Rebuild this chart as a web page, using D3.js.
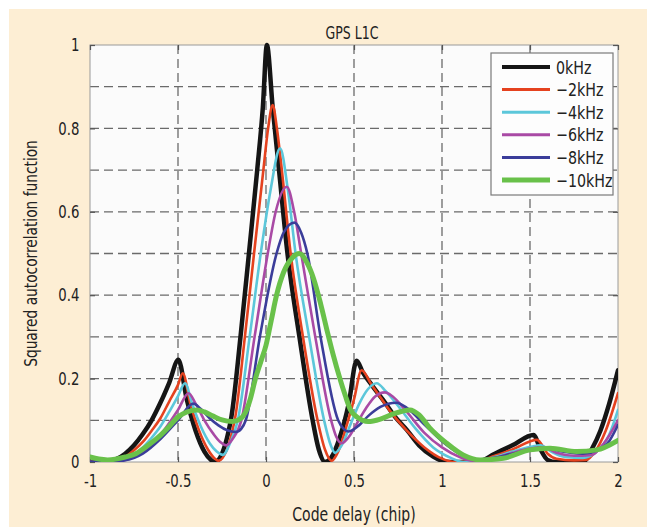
<!DOCTYPE html>
<html><head><meta charset="utf-8">
<script src="https://cdn.jsdelivr.net/npm/d3@7"></script>
<style>
html,body{margin:0;padding:0;background:#fff;}
svg{display:block;}
text{font-family:"Liberation Sans Narrow","DejaVu Sans Condensed","Roboto Condensed","Open Sans",sans-serif;font-stretch:condensed;fill:#222;}
</style></head>
<body>
<svg id="c" width="647" height="527"></svg>
<script>
// ---- data ----
const title = "GPS L1C";
const xLabel = "Code delay (chip)";
const yLabel = "Squared autocorrelation function";
const xTicks = [-1, -0.5, 0, 0.5, 1, 1.5, 2];
const xTickLabels = ["-1", "-0.5", "0", "0.5", "1", "1.5", "2"];
const yTicks = [0, 0.2, 0.4, 0.6, 0.8, 1];
const yTickLabels = ["0", "0.2", "0.4", "0.6", "0.8", "1"];
const yGrid = [0.1, 0.2, 0.3, 0.4, 0.5, 0.6, 0.7, 0.8, 0.9];
const xGrid = [-0.5, 0, 0.5, 1, 1.5];
const seriesNames = ["0kHz", "\u22122kHz", "\u22124kHz", "\u22126kHz", "\u22128kHz", "\u221210kHz"];
const seriesColors = ["#151515", "#e5421f", "#5cc7da", "#a94aa5", "#3b3d9a", "#69c14a"];
const seriesWidths = [4.5, 2.6, 2.6, 2.6, 2.6, 5];

// 0 kHz
const delay0 = [-1, -0.9, -0.85, -0.8, -0.75, -0.7, -0.65, -0.6, -0.55, -0.498, -0.45, -0.4, -0.35, -0.31, -0.29,
  -0.2, -0.145, -0.097, -0.05, -0.018, 0.005, 0.038, 0.074, 0.122, 0.19, 0.265, 0.3, 0.335,
  0.37, 0.42, 0.47, 0.515, 0.55, 0.6, 0.665, 0.73, 0.8, 0.87, 0.95, 1.0, 1.05, 1.2, 1.3, 1.4, 1.52, 1.56, 1.6, 1.65, 1.8, 1.85, 1.9, 1.95, 2.0];
const acf0 = [0, 0.001, 0.007, 0.02, 0.04, 0.067, 0.1, 0.142, 0.19, 0.245, 0.15, 0.075, 0.025, 0.004, 0,
  0.1, 0.3, 0.5, 0.7, 0.85, 1.0, 0.85, 0.7, 0.5, 0.3, 0.1, 0.03, 0,
  0.01, 0.06, 0.14, 0.243, 0.215, 0.185, 0.149, 0.11, 0.077, 0.04, 0.013, 0.003, 0, 0, 0.02, 0.04, 0.065, 0.03, 0.005, 0, 0, 0.03, 0.075, 0.14, 0.22];

// -2 kHz
const delay2 = [-1, -0.9, -0.85, -0.8, -0.75, -0.7, -0.65, -0.6, -0.55, -0.5, -0.473, -0.43, -0.38, -0.33, -0.29, -0.27,
  -0.178, -0.12, -0.068, -0.015, 0.012, 0.038, 0.062, 0.09, 0.14, 0.21, 0.293, 0.335, 0.373,
  0.41, 0.46, 0.5, 0.543, 0.6, 0.65, 0.7, 0.8, 0.9, 1.0, 1.07, 1.2, 1.3, 1.4, 1.54, 1.6, 1.65, 1.75, 1.82, 1.87, 1.93, 2.0];
const acf2 = [0, 0, 0.004, 0.012, 0.028, 0.048, 0.075, 0.105, 0.145, 0.185, 0.213, 0.14, 0.075, 0.03, 0.008, 0.003,
  0.1, 0.3, 0.5, 0.7, 0.8, 0.856, 0.8, 0.7, 0.5, 0.3, 0.1, 0.03, 0.003,
  0.025, 0.09, 0.15, 0.22, 0.185, 0.155, 0.125, 0.075, 0.035, 0.008, 0, 0.002, 0.015, 0.03, 0.053, 0.02, 0.008, 0.004, 0.005, 0.025, 0.075, 0.165];

// -4 kHz
const delay4 = [-1, -0.9, -0.8, -0.75, -0.7, -0.65, -0.6, -0.55, -0.5, -0.46, -0.42, -0.37, -0.32, -0.28, -0.245,
  -0.2, -0.16, -0.093, -0.03, 0.025, 0.08, 0.125, 0.168, 0.245, 0.33, 0.368, 0.392,
  0.43, 0.48, 0.53, 0.58, 0.629, 0.68, 0.75, 0.85, 0.95, 1.05, 1.12, 1.2, 1.3, 1.4, 1.5, 1.56, 1.62, 1.7, 1.8, 1.88, 1.95, 2.0];
const acf4 = [0, 0, 0.008, 0.018, 0.035, 0.058, 0.085, 0.12, 0.158, 0.189, 0.14, 0.085, 0.045, 0.025, 0.017,
  0.05, 0.1, 0.3, 0.5, 0.65, 0.752, 0.65, 0.5, 0.3, 0.1, 0.04, 0.022,
  0.04, 0.09, 0.14, 0.175, 0.189, 0.17, 0.135, 0.08, 0.035, 0.01, 0, 0.002, 0.012, 0.025, 0.036, 0.04, 0.025, 0.012, 0.01, 0.025, 0.065, 0.125];

// -6 kHz
const delay6 = [-1, -0.9, -0.8, -0.7, -0.6, -0.5, -0.44, -0.4, -0.35, -0.3, -0.26, -0.225,
  -0.19, -0.14, -0.065, 0.01, 0.055, 0.118, 0.16, 0.2, 0.28, 0.37, 0.4, 0.43,
  0.47, 0.52, 0.57, 0.62, 0.676, 0.72, 0.8, 0.9, 1.0, 1.1, 1.18, 1.3, 1.4, 1.5, 1.58, 1.65, 1.75, 1.85, 1.92, 2.0];
const acf6 = [0, 0, 0.005, 0.025, 0.065, 0.125, 0.165, 0.14, 0.1, 0.068, 0.048, 0.04,
  0.055, 0.1, 0.3, 0.5, 0.6, 0.66, 0.6, 0.5, 0.3, 0.1, 0.06, 0.045,
  0.06, 0.095, 0.13, 0.157, 0.167, 0.157, 0.12, 0.07, 0.035, 0.012, 0.003, 0.01, 0.022, 0.032, 0.036, 0.022, 0.015, 0.017, 0.045, 0.1];

// -8 kHz
const delay8 = [-1, -0.9, -0.8, -0.7, -0.6, -0.5, -0.413, -0.37, -0.32, -0.27, -0.22, -0.17,
  -0.14, -0.115, -0.035, 0.06, 0.1, 0.161, 0.2, 0.235, 0.31, 0.41, 0.44, 0.468,
  0.52, 0.58, 0.65, 0.74, 0.8, 0.9, 1.0, 1.1, 1.2, 1.3, 1.4, 1.5, 1.6, 1.7, 1.8, 1.88, 1.95, 2.0];
const acf8 = [0, 0, 0.004, 0.02, 0.055, 0.1, 0.14, 0.127, 0.105, 0.088, 0.076, 0.072,
  0.08, 0.1, 0.3, 0.5, 0.55, 0.574, 0.55, 0.5, 0.3, 0.1, 0.08, 0.073,
  0.085, 0.11, 0.132, 0.142, 0.13, 0.09, 0.05, 0.02, 0.006, 0.01, 0.02, 0.028, 0.032, 0.024, 0.02, 0.028, 0.05, 0.089];

// -10 kHz
const delay10 = [-1, -0.95, -0.9, -0.8, -0.74, -0.67, -0.61, -0.55, -0.5, -0.45, -0.394, -0.35, -0.3, -0.25, -0.19,
  -0.15, -0.119, -0.09, -0.06, -0.03, 0, 0.03, 0.06, 0.1, 0.15, 0.19, 0.23, 0.27, 0.31, 0.35, 0.38, 0.42, 0.45, 0.48,
  0.52, 0.58, 0.65, 0.72, 0.818, 0.87, 0.93, 1.027, 1.12, 1.216, 1.348, 1.5, 1.614, 1.765, 1.879, 2.0];
const acf10 = [0.012, 0.007, 0.005, 0.012, 0.02, 0.04, 0.06, 0.085, 0.108, 0.12, 0.125, 0.12, 0.11, 0.101, 0.097,
  0.102, 0.117, 0.15, 0.2, 0.24, 0.28, 0.34, 0.4, 0.455, 0.49, 0.5, 0.48, 0.44, 0.38, 0.31, 0.26, 0.2, 0.16, 0.125,
  0.107, 0.097, 0.103, 0.115, 0.125, 0.113, 0.082, 0.045, 0.017, 0.005, 0.009, 0.029, 0.033, 0.025, 0.029, 0.052];

const delays = [delay0, delay2, delay4, delay6, delay8, delay10];
const acfs = [acf0, acf2, acf4, acf6, acf8, acf10];

// ---- drawing ----
const W = 647, H = 527;
const NARROW = 0.82; // horizontal squeeze to mimic the condensed face of the original
const svg = d3.select("#c");
const m = {left: 90, top: 45, right: 618, bottom: 462};

svg.append("rect").attr("x", 9).attr("y", 9).attr("width", W - 9).attr("height", H - 9).attr("fill", "#fdeed4");

const x = d3.scaleLinear().domain([-1, 2]).range([m.left, m.right]);
const y = d3.scaleLinear().domain([0, 1]).range([m.bottom, m.top]);

svg.append("rect").attr("x", m.left).attr("y", m.top)
  .attr("width", m.right - m.left).attr("height", m.bottom - m.top).attr("fill", "#fbfbfb");

const defs = svg.append("defs");
defs.append("clipPath").attr("id", "clip").append("rect")
  .attr("x", m.left).attr("y", m.top - 3).attr("width", m.right - m.left).attr("height", m.bottom - m.top + 3);

// grid
const grid = svg.append("g").attr("stroke", "#6a6a6a").attr("stroke-width", 1.3).attr("stroke-dasharray", "9,5");
grid.selectAll("line.h").data(yGrid).enter().append("line")
  .attr("x1", m.left).attr("x2", m.right).attr("y1", d => y(d)).attr("y2", d => y(d));
grid.selectAll("line.v").data(xGrid).enter().append("line")
  .attr("y1", m.top).attr("y2", m.bottom).attr("x1", d => x(d)).attr("x2", d => x(d));

// frame
svg.append("rect").attr("x", m.left).attr("y", m.top)
  .attr("width", m.right - m.left).attr("height", m.bottom - m.top)
  .attr("fill", "none").attr("stroke", "#9a9a9a").attr("stroke-width", 1);

// axes with inner ticks
const axB = d3.axisBottom(x).tickValues(xTicks).tickFormat((d, i) => xTickLabels[i]).tickSizeInner(-5).tickSizeOuter(0).tickPadding(12);
const axT = d3.axisTop(x).tickValues(xTicks).tickFormat("").tickSizeInner(-5).tickSizeOuter(0);
const axL = d3.axisLeft(y).tickValues(yTicks).tickFormat((d, i) => yTickLabels[i]).tickSizeInner(-5).tickSizeOuter(0).tickPadding(13);
const axR = d3.axisRight(y).tickValues(yTicks).tickFormat("").tickSizeInner(-5).tickSizeOuter(0);

function styleAxis(g) {
  g.select(".domain").remove();
  g.selectAll(".tick line").attr("stroke", "#555").attr("stroke-width", 1.2);
  g.selectAll(".tick text").attr("font-size", 18).attr("fill", "#222")
    .attr("transform", `scale(${NARROW},1)`)
    .style("font-family", '"Liberation Sans Narrow","DejaVu Sans Condensed",sans-serif');
}
svg.append("g").attr("transform", `translate(0,${m.bottom})`).call(axB).call(styleAxis);
svg.append("g").attr("transform", `translate(0,${m.top})`).call(axT).call(styleAxis);
svg.append("g").attr("transform", `translate(${m.left},0)`).call(axL).call(styleAxis);
svg.append("g").attr("transform", `translate(${m.right},0)`).call(axR).call(styleAxis);

// curves
const line = d3.line().x(d => x(d[0])).y(d => y(d[1])).curve(d3.curveMonotoneX);
const curves = svg.append("g").attr("clip-path", "url(#clip)");
seriesNames.forEach((name, i) => {
  const pts = delays[i].map((d, k) => [d, acfs[i][k]]);
  curves.append("path").datum(pts).attr("d", line)
    .attr("fill", "none").attr("stroke", seriesColors[i]).attr("stroke-width", seriesWidths[i])
    .attr("stroke-linejoin", "round").attr("stroke-linecap", "round");
});

// legend
const lg = svg.append("g");
lg.append("rect").attr("x", 491).attr("y", 53).attr("width", 122).attr("height", 142)
  .attr("fill", "#fdfdfd").attr("stroke", "#7a7a7a").attr("stroke-width", 1.2);
seriesNames.forEach((name, i) => {
  const yy = 67 + i * 22.6;
  lg.append("line").attr("x1", 502).attr("x2", 550).attr("y1", yy).attr("y2", yy)
    .attr("stroke", seriesColors[i]).attr("stroke-width", i === 0 ? 4 : (i === 5 ? 5 : 3));
  lg.append("text").attr("transform", `translate(556,${yy + 6.5}) scale(0.88,1)`)
    .attr("font-size", 18).text(name);
});

// titles
svg.append("text").attr("transform", `translate(352,39) scale(${NARROW},1)`)
  .attr("text-anchor", "middle").attr("font-size", 17).text(title);
svg.append("text").attr("transform", `translate(354,521) scale(${NARROW},1)`)
  .attr("text-anchor", "middle").attr("font-size", 19).text(xLabel);
svg.append("text").attr("transform", `translate(37,${(m.top + m.bottom) / 2}) rotate(-90) scale(0.9,1)`)
  .attr("text-anchor", "middle").attr("font-size", 17).text(yLabel);
</script>
</body></html>
